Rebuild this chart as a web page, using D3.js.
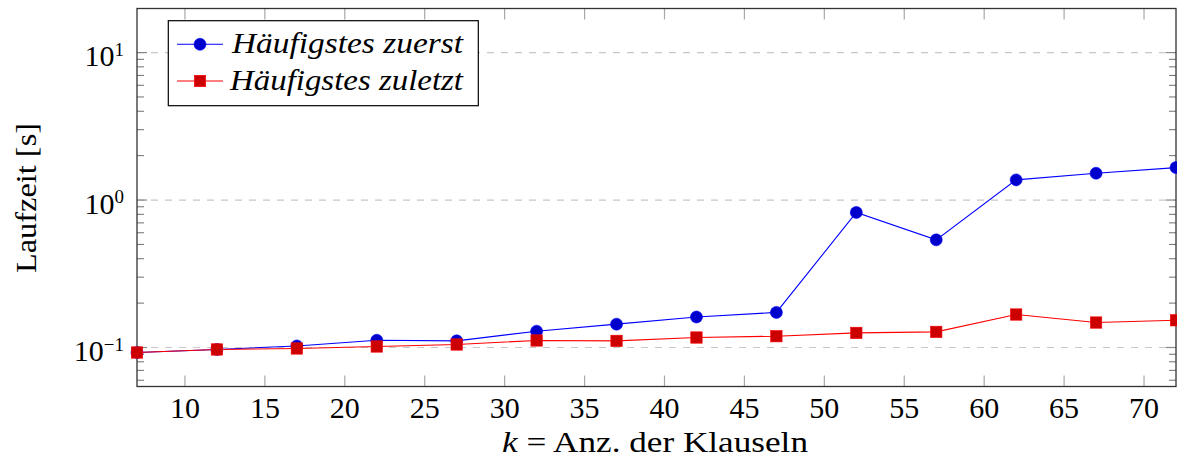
<!DOCTYPE html>
<html>
<head>
<meta charset="utf-8">
<script src="https://cdn.jsdelivr.net/npm/d3@7"></script>
<style>
  html, body { margin: 0; padding: 0; background: #fff; }
  svg { display: block; }
  text { font-family: "Liberation Serif", "DejaVu Serif", serif; fill: #000; }
</style>
</head>
<body>
<svg id="chart" width="1177" height="468"></svg>
<script>
// Number of clauses k
const kValues = [7, 12, 17, 22, 27, 32, 37, 42, 47, 52, 57, 62, 67, 72];
// Runtime in seconds, most frequent literal first
const timeFirst = [0.0925, 0.097, 0.1025, 0.112, 0.111, 0.129, 0.144, 0.161, 0.173, 0.824, 0.537, 1.37, 1.52, 1.66];
// Runtime in seconds, most frequent literal last
const timeLast = [0.0925, 0.097, 0.0985, 0.1016, 0.1048, 0.1116, 0.1109, 0.1169, 0.1193, 0.1256, 0.1276, 0.1674, 0.1477, 0.153];
const xTicks = [10, 15, 20, 25, 30, 35, 40, 45, 50, 55, 60, 65, 70];
const yDecades = [-1, 0, 1];
const seriesNames = ["Häufigstes zuerst", "Häufigstes zuletzt"];

const svg = d3.select("#chart");
const pL = 137, pR = 1176, pT = 8.5, pB = 386.5;

const x = d3.scaleLinear().domain([7, 72]).range([pL, pR]);
const y = d3.scaleLog().domain([0.0544, 19.9]).range([pB, pT]);

// dashed grid at each decade
svg.append("g").selectAll("line").data(yDecades).join("line")
  .attr("x1", pL).attr("x2", pR)
  .attr("y1", d => y(Math.pow(10, d))).attr("y2", d => y(Math.pow(10, d)))
  .attr("stroke", "#c8c8c8").attr("stroke-width", 1.2)
  .attr("stroke-dasharray", "7,7");

// x ticks, inside on bottom and top
const xt = svg.append("g");
xt.selectAll("line.b").data(xTicks).join("line").attr("class", "b")
  .attr("x1", d => x(d)).attr("x2", d => x(d))
  .attr("y1", pB).attr("y2", pB - 11)
  .attr("stroke", "#a8a8a8").attr("stroke-width", 1.2);
xt.selectAll("line.t").data(xTicks).join("line").attr("class", "t")
  .attr("x1", d => x(d)).attr("x2", d => x(d))
  .attr("y1", pT).attr("y2", pT + 11)
  .attr("stroke", "#a8a8a8").attr("stroke-width", 1.2);

// y ticks: minor 2..9 per decade, major at decades
const minor = [];
for (let e = -2; e <= 1; e++) for (let m = 2; m <= 9; m++) {
  const v = m * Math.pow(10, e);
  if (v >= y.domain()[0] && v <= y.domain()[1]) minor.push(v);
}
const yt = svg.append("g");
[[pL, 1], [pR, -1]].forEach(([xe, dir]) => {
  yt.append("g").selectAll("line").data(minor).join("line")
    .attr("x1", xe).attr("x2", xe + dir * 7)
    .attr("y1", d => y(d)).attr("y2", d => y(d))
    .attr("stroke", "#707070").attr("stroke-width", 1);
  yt.append("g").selectAll("line").data(yDecades).join("line")
    .attr("x1", xe).attr("x2", xe + dir * 10)
    .attr("y1", d => y(Math.pow(10, d))).attr("y2", d => y(Math.pow(10, d)))
    .attr("stroke", "#888").attr("stroke-width", 1.2);
});

// frame
svg.append("rect").attr("x", pL).attr("y", pT)
  .attr("width", pR - pL).attr("height", pB - pT)
  .attr("fill", "none").attr("stroke", "#333").attr("stroke-width", 1.3);

// x tick labels
svg.append("g").selectAll("text").data(xTicks).join("text")
  .attr("x", d => x(d)).attr("y", 418)
  .attr("text-anchor", "middle").attr("font-size", 30)
  .text(d => d);

// y tick labels 10^n
const yl = svg.append("g").selectAll("text").data(yDecades).join("text")
  .attr("x", 124).attr("y", d => y(Math.pow(10, d)) + 13.5)
  .attr("text-anchor", "end").attr("font-size", 30);
yl.append("tspan").text("10");
yl.append("tspan").attr("dy", -10.5).attr("font-size", 19)
  .text(d => d < 0 ? "\u2212" + Math.abs(d) : String(d));

// axis titles
const xl = svg.append("text").attr("x", 502).attr("y", 452)
  .attr("font-size", 30)
  .attr("textLength", 306).attr("lengthAdjust", "spacingAndGlyphs");
xl.append("tspan").attr("font-style", "italic").text("k");
xl.append("tspan").text(" = Anz. der Klauseln");

svg.append("text")
  .attr("transform", `translate(36,${(pT + pB) / 2 + 0.5}) rotate(-90)`)
  .attr("text-anchor", "middle").attr("font-size", 30)
  .attr("textLength", 150).attr("lengthAdjust", "spacingAndGlyphs")
  .text("Laufzeit [s]");

// series
const line = d3.line().x(d => x(d[0])).y(d => y(d[1]));
const firstPts = kValues.map((k, i) => [k, timeFirst[i]]);
const lastPts = kValues.map((k, i) => [k, timeLast[i]]);

const plot = svg.append("g");
plot.append("path").datum(firstPts).attr("d", line)
  .attr("fill", "none").attr("stroke", "#0000ff").attr("stroke-width", 1.1);
plot.append("g").selectAll("circle").data(firstPts).join("circle")
  .attr("cx", d => x(d[0])).attr("cy", d => y(d[1])).attr("r", 6)
  .attr("fill", "#0000cc").attr("stroke", "#0000ff").attr("stroke-width", 0.6);

plot.append("path").datum(lastPts).attr("d", line)
  .attr("fill", "none").attr("stroke", "#ff0000").attr("stroke-width", 1.1);
plot.append("g").selectAll("rect").data(lastPts).join("rect")
  .attr("x", d => x(d[0]) - 5.7).attr("y", d => y(d[1]) - 5.7)
  .attr("width", 11.4).attr("height", 11.4)
  .attr("fill", "#cc0000").attr("stroke", "#ff0000").attr("stroke-width", 0.6);

// legend
const lg = svg.append("g");
lg.append("rect").attr("x", 168.3).attr("y", 20.7).attr("width", 310).attr("height", 85)
  .attr("fill", "#fff").attr("stroke", "#000").attr("stroke-width", 1.2);
const rows = [44.3, 81];
const legendWidths = [231, 233];
lg.append("line").attr("x1", 177).attr("x2", 223).attr("y1", rows[0]).attr("y2", rows[0])
  .attr("stroke", "#0000ff").attr("stroke-width", 1.1);
lg.append("circle").attr("cx", 200).attr("cy", rows[0]).attr("r", 6)
  .attr("fill", "#0000cc").attr("stroke", "#0000ff").attr("stroke-width", 0.6);
lg.append("line").attr("x1", 177).attr("x2", 223).attr("y1", rows[1]).attr("y2", rows[1])
  .attr("stroke", "#ff0000").attr("stroke-width", 1.1);
lg.append("rect").attr("x", 200 - 5.7).attr("y", rows[1] - 5.7).attr("width", 11.4).attr("height", 11.4)
  .attr("fill", "#cc0000").attr("stroke", "#ff0000").attr("stroke-width", 0.6);
lg.selectAll("text").data(seriesNames).join("text")
  .attr("x", (d, i) => i === 0 ? 232 : 230).attr("y", (d, i) => rows[i] + 9)
  .attr("font-size", 30).attr("font-style", "italic")
  .attr("textLength", (d, i) => legendWidths[i]).attr("lengthAdjust", "spacingAndGlyphs")
  .text(d => d);
</script>
</body>
</html>
